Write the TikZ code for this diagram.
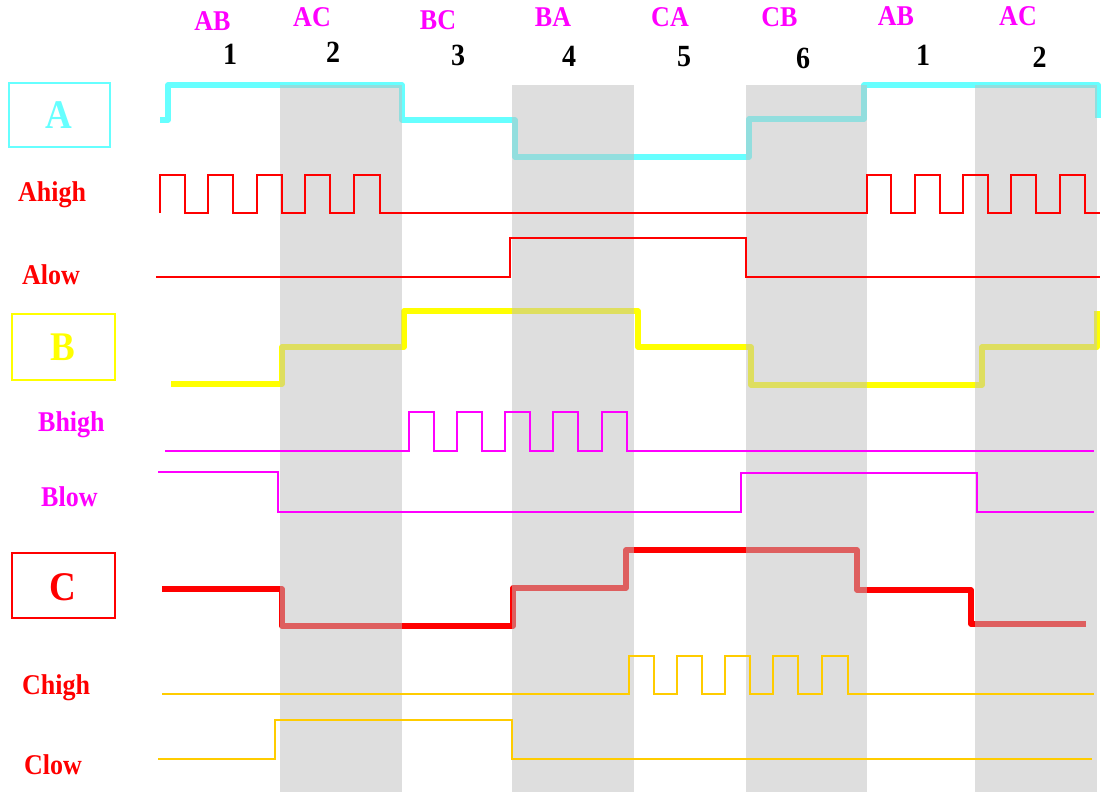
\documentclass[tikz,border=0pt]{standalone}
\usepackage{fontspec}
\setmainfont{Liberation Serif}
\definecolor{cyanA}{RGB}{102,255,255}
\definecolor{yelB}{RGB}{255,255,0}
\definecolor{redC}{RGB}{255,0,0}
\definecolor{magT}{RGB}{255,0,255}
\definecolor{ornC}{RGB}{255,204,0}
\definecolor{bandgray}{RGB}{190,190,190}
\newcommand{\vstretch}[1]{\scalebox{1}[1.1]{#1}}
\begin{document}
\begin{tikzpicture}[x=1pt,y=-1pt,
  thicksig/.style={line width=5.5pt,line join=round},
  thinsig/.style={line width=1.9pt,line join=miter},
  lbl/.style={font=\fontsize{26}{30}\selectfont\bfseries,inner sep=0pt,anchor=base},
  numlbl/.style={font=\fontsize{28}{32}\selectfont\bfseries,inner sep=0pt,anchor=base,text=black},
  sidelbl/.style={font=\fontsize{26}{30}\selectfont\bfseries,inner sep=0pt,anchor=base west},
  boxlbl/.style={font=\fontsize{37}{40}\selectfont\bfseries,inner sep=0pt,anchor=center},
  band/.style={fill=bandgray,fill opacity=0.5}]
\useasboundingbox (0,0) rectangle (1102,792);
\fill[white] (0,0) rectangle (1102,792);

% thick phase signals
\draw[thicksig,cyanA] (160,120) -- (168,120) -- (168,85) -- (402,85) -- (402,120) -- (515,120) -- (515,157) -- (749,157) -- (749,119) -- (864,119) -- (864,85) -- (1098,85) -- (1098,118);
\draw[thicksig,yelB] (171,384) -- (282,384) -- (282,347) -- (404,347) -- (404,311) -- (638,311) -- (638,347) -- (751,347) -- (751,385) -- (982,385) -- (982,347) -- (1097,347) -- (1097,311);
\draw[thicksig,redC] (162,589) -- (282,589) -- (282,626) -- (513,626) -- (513,588) -- (626,588) -- (626,550) -- (857,550) -- (857,590) -- (971,590) -- (971,624) -- (1086,624);

% gray bands
\fill[band] (280,85) rectangle (402,792);
\fill[band] (512,85) rectangle (634,792);
\fill[band] (746,85) rectangle (867,792);
\fill[band] (975,85) rectangle (1097,792);

% thin switch signals
\draw[thinsig,redC] (160,213)--(160,175)--(185,175)--(185,213)--(208,213)--(208,175)--(233,175)--(233,213)--(257,213)--(257,175)--(282,175)--(282,213)--(305,213)--(305,175)--(330,175)--(330,213)--(354,213)--(354,175)--(380,175)--(380,213)--(867,213)--(867,175)--(891,175)--(891,213)--(915,213)--(915,175)--(940,175)--(940,213)--(963,213)--(963,175)--(988,175)--(988,213)--(1011,213)--(1011,175)--(1036,175)--(1036,213)--(1060,213)--(1060,175)--(1085,175)--(1085,213)--(1100,213);
\draw[thinsig,redC] (156,277)--(510,277)--(510,238)--(746,238)--(746,277)--(1100,277);
\draw[thinsig,magT] (165,451)--(409,451)--(409,412)--(434,412)--(434,451)--(457,451)--(457,412)--(482,412)--(482,451)--(505,451)--(505,412)--(530,412)--(530,451)--(553,451)--(553,412)--(578,412)--(578,451)--(602,451)--(602,412)--(627,412)--(627,451)--(1094,451);
\draw[thinsig,magT] (158,472)--(278,472)--(278,512)--(741,512)--(741,473)--(977,473)--(977,512)--(1094,512);
\draw[thinsig,ornC] (162,694)--(629,694)--(629,656)--(654,656)--(654,694)--(677,694)--(677,656)--(702,656)--(702,694)--(725,694)--(725,656)--(750,656)--(750,694)--(773,694)--(773,656)--(798,656)--(798,694)--(822,694)--(822,656)--(848,656)--(848,694)--(1094,694);
\draw[thinsig,ornC] (158,759)--(275,759)--(275,720)--(512,720)--(512,759)--(1092,759);

% boxes
\draw[cyanA,line width=2pt] (9,83) rectangle (110,147);
\draw[yelB,line width=2pt] (12,314) rectangle (115,380);
\draw[redC,line width=2pt] (12,553) rectangle (115,618);
\node[boxlbl,text=cyanA] (la) at (59,115.5) {\vstretch{A}};
\node[boxlbl,text=yelB] (lb) at (63,347) {\vstretch{B}};
\node[boxlbl,text=redC] (lc) at (63,587) {\vstretch{C}};

% side labels
\node[sidelbl,text=redC] (ahigh) at (18,201) {\vstretch{Ahigh}};
\node[sidelbl,text=redC] (alow) at (22,284) {\vstretch{Alow}};
\node[sidelbl,text=magT] (bhigh) at (38,431.5) {\vstretch{Bhigh}};
\node[sidelbl,text=magT] (blow) at (41,506.5) {\vstretch{Blow}};
\node[sidelbl,text=redC] (chigh) at (22,694) {\vstretch{Chigh}};
\node[sidelbl,text=redC] (clow) at (24,774) {\vstretch{Clow}};

% top phase labels
\node[lbl,text=magT] (p1) at (212.5,30.5) {\vstretch{AB}};
\node[lbl,text=magT] (p2) at (312,26.5) {\vstretch{AC}};
\node[lbl,text=magT] (p3) at (438,30) {\vstretch{BC}};
\node[lbl,text=magT] (p4) at (553,26.5) {\vstretch{BA}};
\node[lbl,text=magT] (p5) at (670,26.5) {\vstretch{CA}};
\node[lbl,text=magT] (p6) at (779.5,26.5) {\vstretch{CB}};
\node[lbl,text=magT] (p7) at (896,25.7) {\vstretch{AB}};
\node[lbl,text=magT] (p8) at (1018,25.7) {\vstretch{AC}};

% step numbers
\node[numlbl] (n1) at (230,64) {\vstretch{1}};
\node[numlbl] (n2) at (333,62.3) {\vstretch{2}};
\node[numlbl] (n3) at (458,65.7) {\vstretch{3}};
\node[numlbl] (n4) at (569,66.5) {\vstretch{4}};
\node[numlbl] (n5) at (684,66.7) {\vstretch{5}};
\node[numlbl] (n6) at (803,69) {\vstretch{6}};
\node[numlbl] (n7) at (923,65) {\vstretch{1}};
\node[numlbl] (n8) at (1039.5,67.3) {\vstretch{2}};
\end{tikzpicture}
\end{document}
